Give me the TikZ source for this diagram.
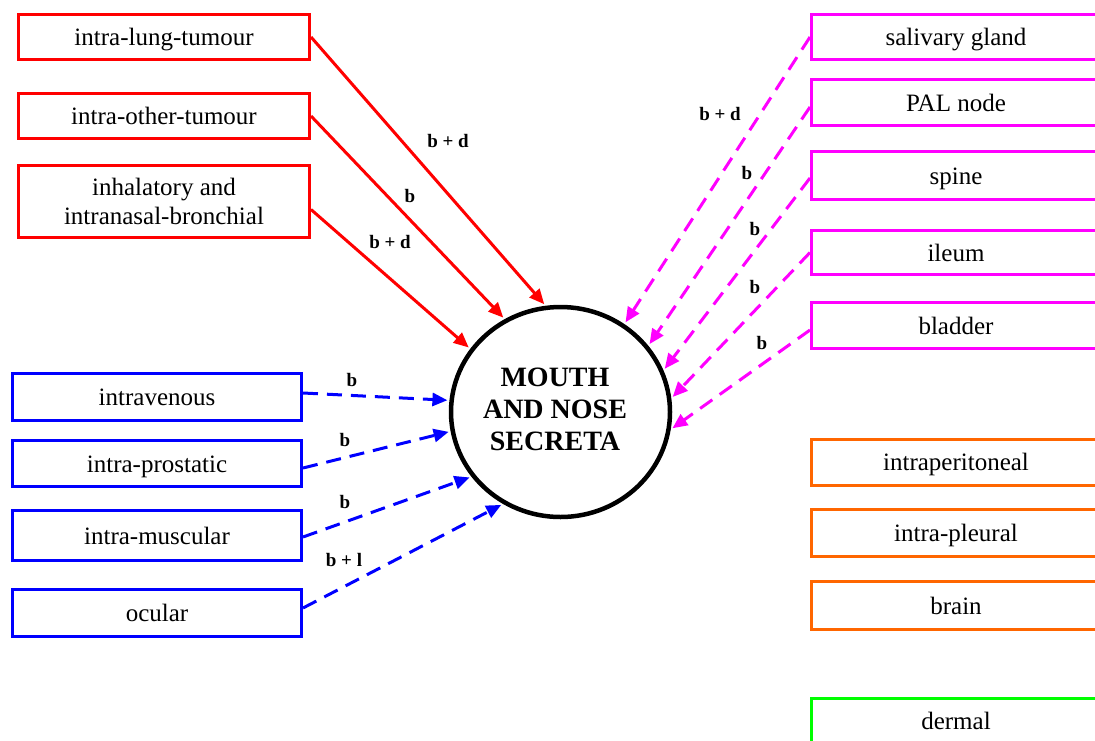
\documentclass[tikz,border=0pt]{standalone}
\usepackage{fontspec}
\setmainfont{Liberation Serif}
\usetikzlibrary{arrows.meta,shapes.geometric}
\definecolor{routeRed}{RGB}{255,0,0}
\definecolor{routeBlue}{RGB}{0,0,255}
\definecolor{routeMagenta}{RGB}{255,0,255}
\definecolor{routeOrange}{RGB}{255,102,0}
\definecolor{routeGreen}{RGB}{0,255,0}
\begin{document}
\begin{tikzpicture}[x=1pt,y=-1pt,
  box/.style={draw, line width=3pt, fill=white, inner sep=0pt,
    minimum width=289pt, minimum height=46pt, align=center,
    text height=17pt, text depth=0pt,
    font=\fontsize{25}{29}\selectfont},
  twoline/.style={text height=, text depth=},
  redbox/.style={box, draw=routeRed, minimum width=291pt, minimum height=45pt},
  bluebox/.style={box, draw=routeBlue},
  magbox/.style={box, draw=routeMagenta},
  orangebox/.style={box, draw=routeOrange},
  greenbox/.style={box, draw=routeGreen},
  hub/.style={ellipse, draw=black, line width=4.5pt, minimum width=219pt,
    minimum height=210pt, inner sep=0pt},
  hubtext/.style={align=center, inner sep=0pt,
    font=\fontsize{28}{32}\selectfont\bfseries},
  lbl/.style={inner sep=0pt, font=\fontsize{19}{19}\selectfont\bfseries},
  link/.style={line width=3pt, shorten >=2pt,
    -{Triangle[length=15pt,width=13pt]}},
  dlink/.style={link, dash pattern=on 15pt off 9pt},
]
\useasboundingbox (0,0) rectangle (1095,740);
\clip (0,0) rectangle (1095,740);

% central compartment
\node[hub] (hub) at (560.5,412) {};
\node[hubtext] (hubname) at (555,409) {MOUTH\\AND NOSE\\SECRETA};

% left column: solid red routes
\node[redbox] (lung) at (164,37) {intra-lung-tumour};
\node[redbox] (other) at (164,116) {intra-other-tumour};
\node[redbox, twoline, minimum height=72pt] (inh) at (164,201.5) {inhalatory and\\intranasal-bronchial};

% left column: dashed blue routes
\node[bluebox, minimum height=47pt] (iv) at (157,397) {intravenous};
\node[bluebox] (pros) at (157,463.5) {intra-prostatic};
\node[bluebox, minimum height=50pt] (musc) at (157,535.5) {intra-muscular};
\node[bluebox, minimum height=47pt] (ocul) at (157,612.5) {ocular};

% right column: magenta routes
\node[magbox, minimum height=45pt] (sal) at (956,37) {salivary gland};
\node[magbox] (pal) at (956,102.5) {PAL node};
\node[magbox, minimum height=48pt] (spine) at (956,175.5) {spine};
\node[magbox, minimum height=44pt] (ileum) at (956,252.5) {ileum};
\node[magbox] (blad) at (956,325.5) {bladder};

% right column: unconnected routes
\node[orangebox] (perit) at (956,462) {intraperitoneal};
\node[orangebox, minimum height=47pt] (pleur) at (956,533) {intra-pleural};
\node[orangebox, minimum height=48pt] (brain) at (956,605.5) {brain};
\node[greenbox] (dermal) at (956,721) {dermal};

% red connectors
\draw[link, routeRed] (lung.east) -- (hub.98.9);
\draw[link, routeRed] (other.east) -- (hub.121.8);
\draw[link, routeRed] ([yshift=-8pt]inh.east) -- (hub.145.5);
\node[lbl] (l1) at (448,141) {b + d};
\node[lbl] (l2) at (410,196) {b};
\node[lbl] (l3) at (390,242) {b + d};

% blue connectors
\draw[dlink, routeBlue] ([yshift=4pt]iv.east) -- (hub.174.6);
\draw[dlink, routeBlue] ([yshift=-4.5pt]pros.east) -- (hub.190.9);
\draw[dlink, routeBlue] ([yshift=-1.5pt]musc.east) -- (hub.216);
\draw[dlink, routeBlue] ([yshift=4.5pt]ocul.east) -- (hub.238.9);
\node[lbl] (l4) at (352,380) {b};
\node[lbl] (l5) at (345,440) {b};
\node[lbl] (l6) at (345,502) {b};
\node[lbl] (l7) at (344,560) {b + l};

% magenta connectors
\draw[dlink, routeMagenta] (sal.west) -- (hub.54.7);
\draw[dlink, routeMagenta] ([yshift=-4.5pt]pal.west) -- (hub.37.9);
\draw[dlink, routeMagenta] ([yshift=-2.5pt]spine.west) -- (hub.22.8);
\draw[dlink, routeMagenta] (ileum.west) -- (hub.7.4);
\draw[dlink, routeMagenta] ([yshift=-4.5pt]blad.west) -- (hub.-9.9);
\node[lbl] (l8) at (720,114) {b + d};
\node[lbl] (l9) at (747,173) {b};
\node[lbl] (l10) at (755,229) {b};
\node[lbl] (l11) at (755,287) {b};
\node[lbl] (l12) at (762,343) {b};
\end{tikzpicture}
\end{document}
